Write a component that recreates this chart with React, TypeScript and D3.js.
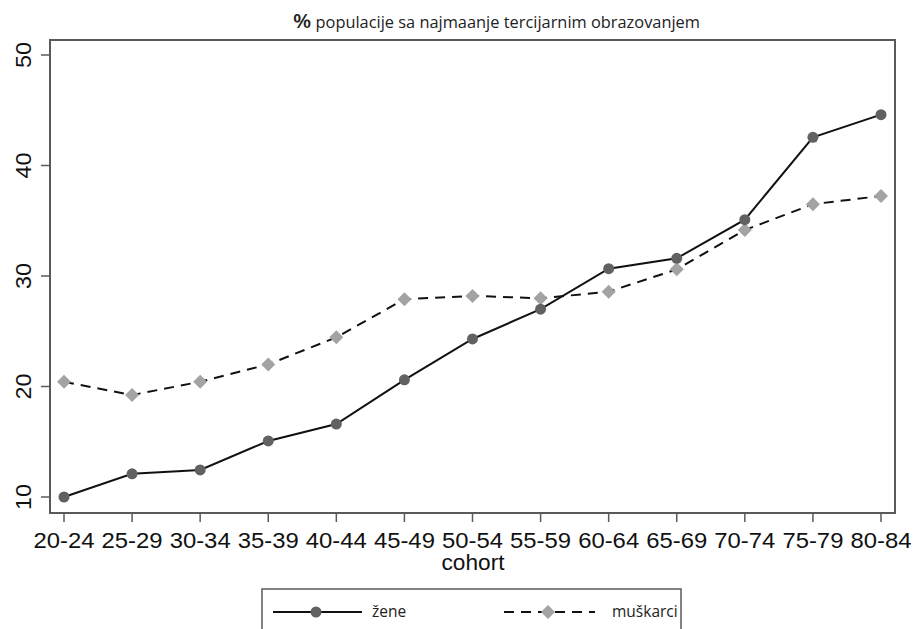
import React from "react";
import * as d3 from "d3";

const cohorts = [
  "20-24", "25-29", "30-34", "35-39", "40-44", "45-49", "50-54",
  "55-59", "60-64", "65-69", "70-74", "75-79", "80-84",
];
const zene = [10.0, 12.1, 12.45, 15.07, 16.6, 20.6, 24.3, 27.0, 30.66, 31.6, 35.1, 42.55, 44.6];
const muskarci = [20.43, 19.23, 20.43, 22.0, 24.45, 27.9, 28.2, 27.98, 28.58, 30.6, 34.16, 36.5, 37.24];
const yTicks = [10, 20, 30, 40, 50];

const W = 913;
const H = 629;
// plot frame
const box = { left: 50, right: 895, top: 40, bottom: 513 };

const App = () => {
  const x = d3
    .scalePoint<string>()
    .domain(cohorts)
    .range([64, 881]);
  const y = d3.scaleLinear().domain([10, 50]).range([497, 55]);

  const line = d3
    .line<number>()
    .x((d, i) => x(cohorts[i]) as number)
    .y((d) => y(d));

  const diamond = d3.symbol().type(d3.symbolSquare).size(98)() as string;
  const frame = "#5a5a5a";
  const dotFill = "#616161";
  const diaFill = "#a3a3a3";
  const axisFont = "'Liberation Sans', Arial, sans-serif";
  const uiFont = "'Open Sans', 'Noto Sans', sans-serif";

  return (
    <svg
      width={W}
      height={H}
      style={{ position: "absolute", left: 0, top: 0, background: "#fff" }}
    >
      {/* title */}
      <text
        x={293}
        y={28}
        fontFamily={uiFont}
        fontSize={15.5}
        fill="#222"
        textLength={407}
        lengthAdjust="spacingAndGlyphs"
      >
        <tspan fontSize={20} fontWeight={600}>%</tspan> populacije sa najmaanje tercijarnim obrazovanjem
      </text>

      {/* frame */}
      <rect
        x={box.left}
        y={box.top}
        width={box.right - box.left}
        height={box.bottom - box.top}
        fill="none"
        stroke={frame}
        strokeWidth={2}
      />

      {/* y axis */}
      {yTicks.map((t) => (
        <g key={t}>
          <line x1={41} x2={box.left} y1={y(t)} y2={y(t)} stroke={frame} strokeWidth={1.5} />
          <text
            transform={`translate(31,${y(t)}) rotate(-90)`}
            textAnchor="middle"
            fontFamily={axisFont}
            fontSize={21.5}
            fill="#111"
            textLength={26}
            lengthAdjust="spacingAndGlyphs"
          >
            {t}
          </text>
        </g>
      ))}

      {/* x axis */}
      {cohorts.map((c) => (
        <g key={c}>
          <line x1={x(c)} x2={x(c)} y1={box.bottom} y2={522} stroke={frame} strokeWidth={1.5} />
          <text
            x={x(c)}
            y={548}
            textAnchor="middle"
            fontFamily={axisFont}
            fontSize={21.5}
            fill="#111"
            textLength={61}
            lengthAdjust="spacingAndGlyphs"
          >
            {c}
          </text>
        </g>
      ))}
      <text
        x={473}
        y={570}
        textAnchor="middle"
        fontFamily={axisFont}
        fontSize={21.5}
        fill="#111"
        textLength={63}
        lengthAdjust="spacingAndGlyphs"
      >
        cohort
      </text>

      {/* series */}
      <path d={line(muskarci) as string} fill="none" stroke="#111" strokeWidth={2} strokeDasharray="10,7" />
      <path d={line(zene) as string} fill="none" stroke="#111" strokeWidth={2} />
      {muskarci.map((v, i) => (
        <path
          key={"m" + i}
          d={diamond}
          transform={`translate(${x(cohorts[i])},${y(v)}) rotate(45)`}
          fill={diaFill}
        />
      ))}
      {zene.map((v, i) => (
        <circle key={"z" + i} cx={x(cohorts[i])} cy={y(v)} r={5.5} fill={dotFill} />
      ))}

      {/* legend */}
      <rect x={262} y={589} width={419} height={60} fill="#fff" stroke={frame} strokeWidth={1.5} />
      <line x1={273} x2={362} y1={612} y2={612} stroke="#111" strokeWidth={2} />
      <circle cx={316} cy={612} r={5.5} fill={dotFill} />
      <text x={372} y={617} fontFamily={uiFont} fontSize={15.5} fill="#222">žene</text>
      <line x1={504} x2={595} y1={612} y2={612} stroke="#111" strokeWidth={2} strokeDasharray="10,7" />
      <path d={diamond} transform="translate(548,612) rotate(45)" fill={diaFill} />
      <text x={612} y={617} fontFamily={uiFont} fontSize={15.5} fill="#222">muškarci</text>
    </svg>
  );
};

export default App;
